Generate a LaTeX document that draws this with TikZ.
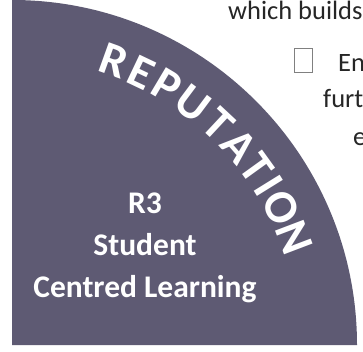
\documentclass[tikz,border=0pt]{standalone}
\usepackage{fontspec}
\setmainfont{Carlito}
\usetikzlibrary{positioning}
\definecolor{rep-grey}{RGB}{94,90,115}
\definecolor{body-text}{RGB}{38,38,38}

\begin{document}
\begin{tikzpicture}[x=1pt, y=1pt,
    inner/.style={text=white, font=\fontsize{31.5}{36}\selectfont\bfseries, anchor=base, inner sep=0pt},
    arcletter/.style={text=white, font=\fontsize{47}{52}\selectfont\bfseries, inner sep=0pt},
    para/.style={text=body-text, font=\fontsize{26.5}{30}\selectfont, anchor=base west, inner sep=0pt}]
  \useasboundingbox (0,0) rectangle (363,351);
  \clip (0,0) rectangle (363,351);
  % quarter disc
  \coordinate (o) at (12,6);
  \fill[rep-grey] (o) -- ++(345,0) arc[start angle=0, end angle=90, radius=345] -- cycle;
  % curved title
  \foreach \ch/\ang [count=\i] in {R/70.2,E/64.6,P/59.2,U/53.2,T/47,A/41.3,T/35.8,I/31.8,O/27,N/20.8}
    \node[arcletter, rotate=\ang-90] (rep\i) at ([shift={(\ang:302)}]o) {\ch};
  % inner label
  \node[inner] (r3) at (145,138) {R3};
  \node[inner] (stud) at (145,96) {Student};
  \node[inner] (cl) at (145,54) {Centred Learning};
  % text of the page beside it
  \node[para] (which) at (228,331) {which builds};
  \node[draw=gray, line width=0.8pt, minimum width=18, minimum height=24, inner sep=0pt] (chk) at (303,291) {};
  \node[para] (en) at (338,279) {En};
  \node[para] (furt) at (323,243) {furt};
  \node[para] (e) at (353,205) {e};
\end{tikzpicture}
\end{document}
